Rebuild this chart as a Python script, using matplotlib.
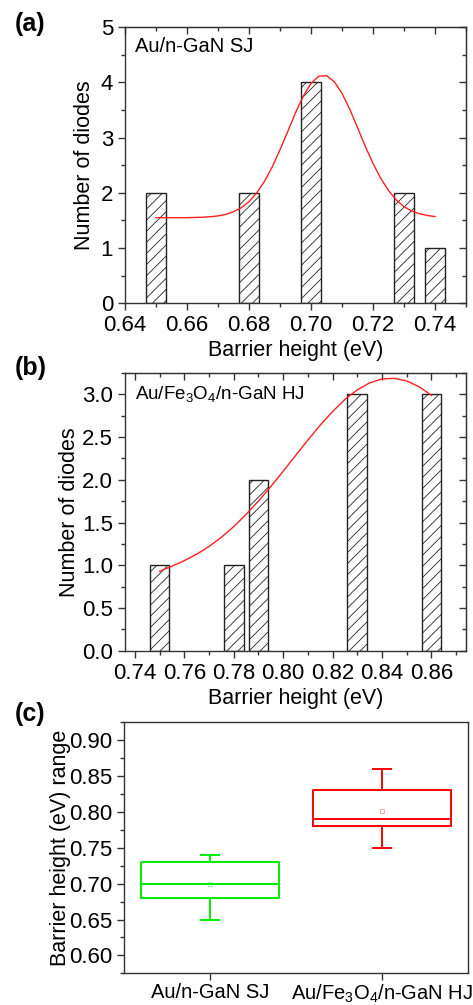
import matplotlib
matplotlib.use("Agg")
import matplotlib.pyplot as plt
from matplotlib.ticker import MultipleLocator

plt.rcParams['font.family'] = ['Liberation Sans', 'DejaVu Sans']
plt.rcParams['mathtext.default'] = 'regular'
plt.rcParams['hatch.linewidth'] = 0.6

# (a) Au/n-GaN SJ histogram
sj_heights = [0.65, 0.68, 0.70, 0.73, 0.74]
sj_counts = [2, 2, 4, 2, 1]
# Gaussian fit curve
sj_fit_x = [0.650, 0.6525, 0.655, 0.6575, 0.660, 0.6625, 0.665, 0.6675, 0.670,
            0.6725, 0.675, 0.6775, 0.680, 0.6825, 0.685, 0.6875, 0.690, 0.6925,
            0.695, 0.6975, 0.700, 0.7025, 0.705, 0.7075, 0.710, 0.7125, 0.715,
            0.7175, 0.720, 0.7225, 0.725, 0.7275, 0.730, 0.7325, 0.735, 0.7375, 0.740]
sj_fit_y = [1.55, 1.55, 1.55, 1.55, 1.55, 1.554, 1.558, 1.567, 1.582,
            1.61, 1.657, 1.73, 1.84, 2.00, 2.21, 2.47, 2.78, 3.11,
            3.45, 3.75, 3.98, 4.11, 4.12, 4.01, 3.80, 3.51, 3.18,
            2.84, 2.53, 2.26, 2.04, 1.87, 1.75, 1.67, 1.62, 1.59, 1.57]

# (b) Au/Fe3O4/n-GaN HJ histogram
hj_heights = [0.75, 0.78, 0.79, 0.83, 0.86]
hj_counts = [1, 1, 2, 3, 3]
hj_fit_x = [0.750, 0.755, 0.760, 0.765, 0.770, 0.775, 0.780, 0.785, 0.790,
            0.795, 0.800, 0.805, 0.810, 0.815, 0.820, 0.825, 0.830, 0.835,
            0.840, 0.845, 0.850, 0.855, 0.860]
hj_fit_y = [0.93, 0.99, 1.054, 1.130, 1.221, 1.328, 1.453, 1.596, 1.752,
            1.922, 2.101, 2.284, 2.466, 2.641, 2.800, 2.942, 3.054, 3.135,
            3.181, 3.188, 3.158, 3.090, 2.990]

# (c) box chart statistics
box_labels = ['Au/n-GaN SJ', 'Au/Fe$_3$O$_4$/n-GaN HJ']
box_min = [0.65, 0.75]
box_q1 = [0.68, 0.78]
box_med = [0.70, 0.79]
box_q3 = [0.73, 0.83]
box_max = [0.74, 0.86]
box_mean = [0.70, 0.802]
box_colors = ['#00ee00', '#ff0000']

fig = plt.figure(figsize=(4.73, 10.05), dpi=100)
ax_a = fig.add_axes([0.2643, 0.6982, 0.721, 0.2749])
ax_b = fig.add_axes([0.2643, 0.3525, 0.721, 0.2763])
ax_c = fig.add_axes([0.2622, 0.0315, 0.7273, 0.2498])

spine_col = '#333333'
tick_fs = 16
label_fs = 15.5


def set_spines(ax):
    for s in ax.spines.values():
        s.set_color(spine_col)
        s.set_linewidth(1.0)


def mirror_ticks(ax, xmaj, xmin, ymaj, ymin):
    # Origin style: outward ticks on bottom/left, inward ticks on top/right
    top = ax.secondary_xaxis('top')
    top.xaxis.set_major_locator(MultipleLocator(xmaj))
    top.xaxis.set_minor_locator(MultipleLocator(xmin))
    right = ax.secondary_yaxis('right')
    right.yaxis.set_major_locator(MultipleLocator(ymaj))
    right.yaxis.set_minor_locator(MultipleLocator(ymin))
    for sec in (top, right):
        sec.tick_params(which='both', direction='in', colors=spine_col,
                        labeltop=False, labelright=False, width=1.0)
        sec.tick_params(which='major', length=5)
        sec.tick_params(which='minor', length=3)
        for s in sec.spines.values():
            s.set_color(spine_col)


def base_ticks(ax):
    ax.tick_params(which='both', direction='out', colors=spine_col,
                   labelcolor='black', labelsize=tick_fs, width=1.0)
    ax.tick_params(which='major', length=5)
    ax.tick_params(which='minor', length=3)


# panel (a)
ax_a.bar(sj_heights, sj_counts, width=0.0062, facecolor='white', edgecolor='#222222',
         linewidth=1.0, hatch='///', zorder=2)
ax_a.plot(sj_fit_x, sj_fit_y, color='#ff2020', linewidth=1.0, zorder=3)
ax_a.set_xlim(0.64, 0.75)
ax_a.set_ylim(0, 5)
ax_a.xaxis.set_major_locator(MultipleLocator(0.02))
ax_a.xaxis.set_minor_locator(MultipleLocator(0.01))
ax_a.yaxis.set_major_locator(MultipleLocator(1))
ax_a.yaxis.set_minor_locator(MultipleLocator(0.5))
ax_a.xaxis.set_major_formatter(lambda v, p: f"{v:.2f}")
ax_a.set_xlabel('Barrier height (eV)', fontsize=label_fs, labelpad=3)
ax_a.set_ylabel('Number of diodes', fontsize=label_fs)
ax_a.yaxis.set_label_coords(-0.088, 0.5)
ax_a.text(0.03, 0.93, 'Au/n-GaN SJ', transform=ax_a.transAxes, fontsize=14.5,
          va='center', ha='left')
set_spines(ax_a)
base_ticks(ax_a)
mirror_ticks(ax_a, 0.02, 0.01, 1, 0.5)

# panel (b)
ax_b.bar(hj_heights, hj_counts, width=0.008, facecolor='white', edgecolor='#222222',
         linewidth=1.0, hatch='///', zorder=2)
ax_b.plot(hj_fit_x, hj_fit_y, color='#ff2020', linewidth=1.0, zorder=3)
ax_b.set_xlim(0.736, 0.874)
ax_b.set_ylim(0, 3.25)
ax_b.xaxis.set_major_locator(MultipleLocator(0.02))
ax_b.xaxis.set_minor_locator(MultipleLocator(0.01))
ax_b.yaxis.set_major_locator(MultipleLocator(0.5))
ax_b.yaxis.set_minor_locator(MultipleLocator(0.25))
ax_b.xaxis.set_major_formatter(lambda v, p: f"{v:.2f}")
ax_b.yaxis.set_major_formatter(lambda v, p: f"{v:.1f}")
ax_b.set_xlabel('Barrier height (eV)', fontsize=label_fs, labelpad=3)
ax_b.set_ylabel('Number of diodes', fontsize=label_fs)
ax_b.yaxis.set_label_coords(-0.132, 0.5)
ax_b.text(0.03, 0.925, 'Au/Fe$_3$O$_4$/n-GaN HJ', transform=ax_b.transAxes,
          fontsize=13.5, va='center', ha='left')
set_spines(ax_b)
base_ticks(ax_b)
mirror_ticks(ax_b, 0.02, 0.01, 0.5, 0.25)

# panel (c)
stats = []
for i in range(2):
    stats.append(dict(med=box_med[i], q1=box_q1[i], q3=box_q3[i],
                      whislo=box_min[i], whishi=box_max[i], mean=box_mean[i],
                      fliers=[], label=box_labels[i]))
bp = ax_c.bxp(stats, positions=[1, 2], widths=0.8, showmeans=True,
              showfliers=False, capwidths=0.1)
for i, col in enumerate(box_colors):
    for key in ('boxes', 'medians'):
        bp[key][i].set_color(col)
        bp[key][i].set_linewidth(1.4)
    for key in ('whiskers', 'caps'):
        for ln in bp[key][2 * i:2 * i + 2]:
            ln.set_color(col)
            ln.set_linewidth(1.4)
    bp['means'][i].set(marker='s', markersize=3, markerfacecolor='none',
                       markeredgecolor=col, markeredgewidth=0.5, alpha=0.5)
ax_c.set_xlim(0.5, 2.5)
ax_c.set_ylim(0.575, 0.925)
ax_c.yaxis.set_major_locator(MultipleLocator(0.05))
ax_c.yaxis.set_minor_locator(MultipleLocator(0.025))
ax_c.yaxis.set_major_formatter(lambda v, p: f"{v:.2f}")
ax_c.set_xticks([1, 2], box_labels)
ax_c.set_ylabel('Barrier height (eV) range', fontsize=label_fs)
ax_c.yaxis.set_label_coords(-0.154, 0.5)
set_spines(ax_c)
base_ticks(ax_c)
ax_c.tick_params(axis='x', which='major', labelsize=14.5, pad=2)

# panel letters
fig.text(0.032, 0.976, '(a)', fontsize=18, fontweight='bold', va='center')
fig.text(0.032, 0.634, '(b)', fontsize=18, fontweight='bold', va='center')
fig.text(0.032, 0.290, '(c)', fontsize=18, fontweight='bold', va='center')

fig.savefig('out.png', dpi=100)
